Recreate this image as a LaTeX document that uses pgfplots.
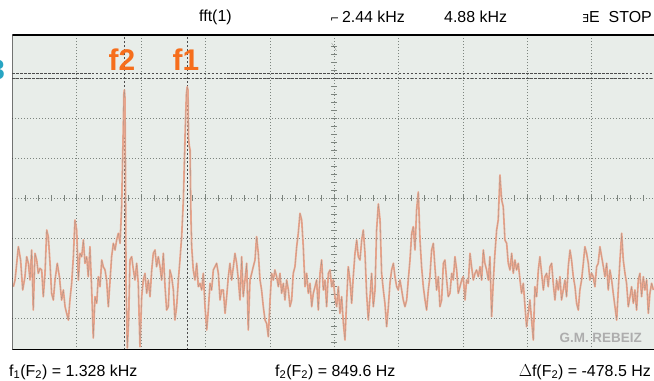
\documentclass[border=0pt]{standalone}
\usepackage{fontspec}
\setmainfont{Liberation Sans}
\newfontfamily\dejavu{DejaVu Sans}
\usepackage{pgfplots}
\usepackage{pgfplotstable}
\pgfplotsset{compat=1.18}
\definecolor{screen}{RGB}{232,237,233}
\definecolor{trace}{RGB}{240,168,142}
\definecolor{traceline}{RGB}{172,148,136}
\definecolor{gridc}{RGB}{125,133,127}
\definecolor{lbl}{RGB}{246,110,28}
\definecolor{chan}{RGB}{40,165,195}

% FFT magnitude: frequency (kHz) vs screen divisions
\pgfplotstableread{
f y
0.008 1.783
0.021 1.950
0.046 2.783
0.063 2.450
0.079 1.700
0.096 2.033
0.109 2.533
0.122 2.367
0.134 1.950
0.147 2.700
0.159 1.200
0.172 2.617
0.185 2.450
0.197 2.117
0.210 2.242
0.223 2.200
0.235 1.533
0.248 2.117
0.261 3.200
0.273 3.033
0.286 2.367
0.298 1.617
0.311 1.450
0.324 1.950
0.341 2.367
0.357 2.033
0.374 1.450
0.387 1.700
0.400 1.283
0.412 1.117
0.425 0.950
0.437 1.450
0.450 1.867
0.463 2.533
0.475 3.450
0.488 3.200
0.501 1.950
0.513 2.617
0.526 2.533
0.539 2.950
0.551 2.367
0.564 2.533
0.576 2.033
0.589 2.783
0.602 1.700
0.614 0.500
0.627 1.533
0.640 1.367
0.652 2.033
0.665 1.783
0.678 2.450
0.690 2.283
0.703 2.200
0.715 1.950
0.728 1.283
0.753 2.533
0.766 2.867
0.779 2.700
0.791 2.950
0.804 3.117
0.817 2.867
0.829 3.783
0.840 5.500
0.846 6.600
0.850 6.700
0.854 6.500
0.858 4.500
0.862 1.950
0.872 0.250
0.882 0.950
0.892 2.450
0.905 2.533
0.918 2.200
0.930 1.950
0.943 2.367
0.955 1.867
0.968 0.283
0.981 1.533
0.993 1.950
1.006 2.117
1.019 1.617
1.031 1.950
1.044 1.533
1.057 2.200
1.069 2.617
1.082 2.700
1.094 2.283
1.107 2.533
1.120 2.283
1.132 1.950
1.145 2.617
1.158 1.783
1.170 1.200
1.183 1.283
1.195 2.200
1.208 2.033
1.221 1.700
1.233 0.950
1.246 1.283
1.259 1.950
1.271 2.450
1.284 3.033
1.297 3.950
1.312 5.800
1.320 6.600
1.326 6.780
1.332 6.700
1.336 5.500
1.342 5.300
1.348 5.200
1.354 3.600
1.360 2.783
1.372 2.200
1.385 1.950
1.398 2.367
1.410 1.783
1.423 1.867
1.436 1.700
1.448 2.117
1.461 1.283
1.474 0.700
1.486 1.200
1.499 1.867
1.511 1.700
1.524 2.200
1.537 2.283
1.549 2.367
1.562 2.117
1.575 1.450
1.587 1.700
1.600 1.700
1.613 1.117
1.625 1.533
1.638 2.033
1.650 2.367
1.663 1.950
1.676 2.283
1.688 2.617
1.701 2.367
1.714 1.950
1.726 1.450
1.739 2.533
1.751 1.533
1.764 1.950
1.777 2.367
1.789 0.700
1.802 1.950
1.815 2.117
1.827 2.283
1.840 2.450
1.852 3.033
1.865 2.617
1.878 1.950
1.890 1.700
1.903 1.283
1.916 0.950
1.928 0.867
1.941 0.533
1.954 1.450
1.966 2.117
1.979 1.950
1.991 2.200
2.004 2.033
2.017 1.783
2.029 2.117
2.042 1.617
2.055 1.867
2.067 1.450
2.080 1.950
2.093 1.700
2.105 1.283
2.118 1.450
2.130 2.117
2.143 2.283
2.156 2.783
2.168 3.117
2.181 3.617
2.194 3.450
2.206 2.783
2.219 1.783
2.232 2.117
2.244 1.617
2.257 1.867
2.270 1.283
2.282 1.617
2.295 1.783
2.307 1.950
2.320 1.200
2.333 2.117
2.345 2.450
2.358 1.700
2.371 1.950
2.383 1.283
2.396 2.117
2.409 2.200
2.421 1.783
2.434 1.950
2.446 1.533
2.459 1.283
2.472 1.783
2.484 1.117
2.497 1.533
2.510 0.867
2.522 0.450
2.535 1.450
2.547 2.283
2.560 1.950
2.573 1.367
2.585 2.033
2.598 2.617
2.611 2.950
2.623 2.533
2.636 2.450
2.649 2.950
2.661 3.200
2.674 2.617
2.686 1.617
2.699 0.950
2.712 1.533
2.724 2.117
2.737 1.283
2.750 1.700
2.762 3.200
2.775 3.850
2.788 3.450
2.800 2.117
2.813 1.700
2.825 1.367
2.838 0.783
2.851 1.283
2.863 1.867
2.876 2.200
2.889 2.367
2.901 2.033
2.914 1.783
2.926 1.700
2.939 1.950
2.952 1.700
2.964 1.450
2.977 1.283
2.990 1.450
3.002 1.950
3.015 2.450
3.028 3.117
3.040 3.283
3.053 2.700
3.065 3.700
3.078 4.150
3.091 2.950
3.103 2.283
3.116 1.783
3.129 1.450
3.141 1.200
3.154 1.700
3.166 2.033
3.179 2.700
3.192 2.867
3.204 2.283
3.217 1.700
3.230 2.033
3.242 1.283
3.255 1.450
3.268 2.367
3.280 2.450
3.293 1.950
3.305 1.533
3.318 1.617
3.331 2.117
3.343 1.950
3.356 2.533
3.369 2.200
3.381 1.617
3.394 1.783
3.407 1.950
3.419 2.033
3.432 1.450
3.444 1.950
3.457 1.867
3.470 2.617
3.482 2.283
3.495 1.950
3.508 2.117
3.520 2.200
3.533 2.033
3.546 2.283
3.558 1.950
3.571 2.700
3.583 2.367
3.596 2.200
3.609 1.950
3.621 2.533
3.634 1.033
3.647 1.950
3.659 2.617
3.672 3.200
3.684 3.450
3.697 4.575
3.710 3.950
3.722 3.783
3.735 2.950
3.748 2.867
3.760 2.367
3.773 2.200
3.786 2.617
3.798 2.117
3.811 2.450
3.823 2.200
3.836 2.367
3.849 1.950
3.861 1.617
3.874 1.867
3.887 1.283
3.899 0.783
3.912 1.117
3.924 1.450
3.937 0.950
3.950 0.450
3.962 1.783
3.975 1.533
3.988 2.200
4.000 2.533
4.013 2.117
4.026 1.700
4.038 2.033
4.051 2.117
4.063 1.783
4.076 2.283
4.089 2.367
4.101 1.867
4.114 1.450
4.127 1.950
4.139 1.700
4.152 2.033
4.164 1.450
4.177 1.700
4.190 1.950
4.202 1.533
4.215 2.283
4.228 2.700
4.240 2.450
4.253 2.033
4.266 1.783
4.278 1.367
4.291 1.200
4.303 1.700
4.316 1.950
4.329 2.367
4.341 2.783
4.354 2.617
4.367 2.367
4.379 1.950
4.392 2.117
4.404 2.033
4.417 1.783
4.430 2.283
4.442 2.367
4.455 2.783
4.468 2.533
4.481 2.283
4.493 2.033
4.506 2.367
4.518 1.700
4.531 2.200
4.544 1.950
4.556 1.617
4.569 1.283
4.582 0.950
4.594 1.700
4.607 2.450
4.620 3.117
4.632 2.450
4.645 2.117
4.657 1.867
4.670 1.283
4.683 1.533
4.695 1.783
4.708 1.367
4.720 1.700
4.733 1.200
4.746 1.950
4.758 2.117
4.771 1.533
4.784 2.033
4.796 1.700
4.809 1.950
4.822 1.117
4.834 1.617
4.847 1.867
4.860 1.700
}\fftdata

\begin{document}
\begin{tikzpicture}
\path[use as bounding box, fill=white] (0bp,0bp) rectangle (654bp,381bp);
\begin{axis}[
  at={(12.3bp,31bp)}, anchor=south west,
  scale only axis, width=641.7bp, height=315bp,
  xmin=0, xmax=4.865, ymin=0.2, ymax=8.075,
  axis background/.style={fill=screen},
  axis line style={draw=none},
  xtick={0.488,0.976,1.464,1.952,2.44,2.928,3.416,3.904,4.392},
  ytick={1,2,3,4,5,6,7},
  xticklabels={}, yticklabels={},
  major tick length=0pt,
  grid=major,
  grid style={gridc, line width=0.5pt, dash pattern=on 0.7pt off 2.3pt},
]
% centre-line graticule ticks
\pgfplotsinvokeforeach{1,...,49}{
  \draw[gridc, line width=0.5pt] (axis cs:{#1*0.0976},3.92) -- (axis cs:{#1*0.0976},4.08);
}
\pgfplotsinvokeforeach{1,...,39}{
  \draw[gridc, line width=0.5pt] (axis cs:2.417,{0.2*#1}) -- (axis cs:2.463,{0.2*#1});
}
% cursors
\draw[black!70, line width=0.5pt, dash pattern=on 2.5pt off 1.5pt] (axis cs:0,7.13) -- (axis cs:4.865,7.13);
\draw[black!70, line width=0.5pt, dash pattern=on 2.5pt off 1.5pt] (axis cs:0,6.99) -- (axis cs:4.865,6.99);
\draw[black!70, line width=0.5pt, dash pattern=on 2pt off 2pt] (axis cs:0.8496,0.2) -- (axis cs:0.8496,8.075);
\draw[black!70, line width=0.5pt, dash pattern=on 2pt off 2pt] (axis cs:1.328,0.2) -- (axis cs:1.328,8.075);
% trace
\addplot[trace, line width=1.8pt, line join=round, no markers] table[x=f, y=y] {\fftdata};
\addplot[traceline, line width=0.35pt, line join=round, no markers] table[x=f, y=y] {\fftdata};
% frame
\draw[black, line width=1.1pt] (rel axis cs:0,1) -- (rel axis cs:1,1);
\draw[black, line width=1.1pt] (rel axis cs:0,0) -- (rel axis cs:1,0);
\draw[black!80, line width=1.2pt] (rel axis cs:0,0) -- (rel axis cs:0,1);
\fill[black] (axis cs:2.44,8.075) ++(0,-4bp) -- ++(-2.5bp,4bp) -- ++(5bp,0) -- cycle;
\fill[black] (axis cs:2.44,0.2) ++(0,4bp) -- ++(-2.5bp,-4bp) -- ++(5bp,0) -- cycle;
\end{axis}
% labels
\node[text=lbl, font=\fontsize{30}{32}\selectfont\bfseries] at (122bp,321bp) {f2};
\node[text=lbl, font=\fontsize{30}{32}\selectfont\bfseries] at (186bp,321bp) {f1};
\node[text=chan, font=\fontsize{28}{30}\selectfont\bfseries, anchor=east, inner sep=0pt] at (5bp,311bp) {3};
\node[text=black!32, font=\fontsize{13.5}{15}\selectfont\bfseries, anchor=east, inner sep=0pt] at (642bp,43bp) {G.M. REBEIZ};
\node[font=\fontsize{16}{18}\selectfont, anchor=west, inner sep=0pt] at (199bp,364bp) {fft(1)};
\node[font=\fontsize{16}{18}\selectfont, anchor=west, inner sep=0pt] at (330bp,364bp) {{\dejavu\fontsize{11}{12}\selectfont ⌐}\,2.44 kHz};
\node[font=\fontsize{16}{18}\selectfont, anchor=west, inner sep=0pt] at (444bp,364bp) {4.88 kHz};
\node[font=\fontsize{16}{18}\selectfont, anchor=east, inner sep=0pt] at (652bp,364bp) {{\dejavu\fontsize{11}{12}\selectfont Ǝ}E\ \ STOP};
\node[font=\fontsize{16}{18}\selectfont, anchor=west, inner sep=0pt] at (9bp,9bp) {f\textsubscript{1}(F\textsubscript{2}) = 1.328 kHz};
\node[font=\fontsize{16}{18}\selectfont, anchor=west, inner sep=0pt] at (275bp,9bp) {f\textsubscript{2}(F\textsubscript{2}) = 849.6 Hz};
\node[font=\fontsize{16}{18}\selectfont, anchor=east, inner sep=0pt] at (651bp,9bp) {\(\Delta\)f(F\textsubscript{2}) = -478.5 Hz};
\end{tikzpicture}
\end{document}
